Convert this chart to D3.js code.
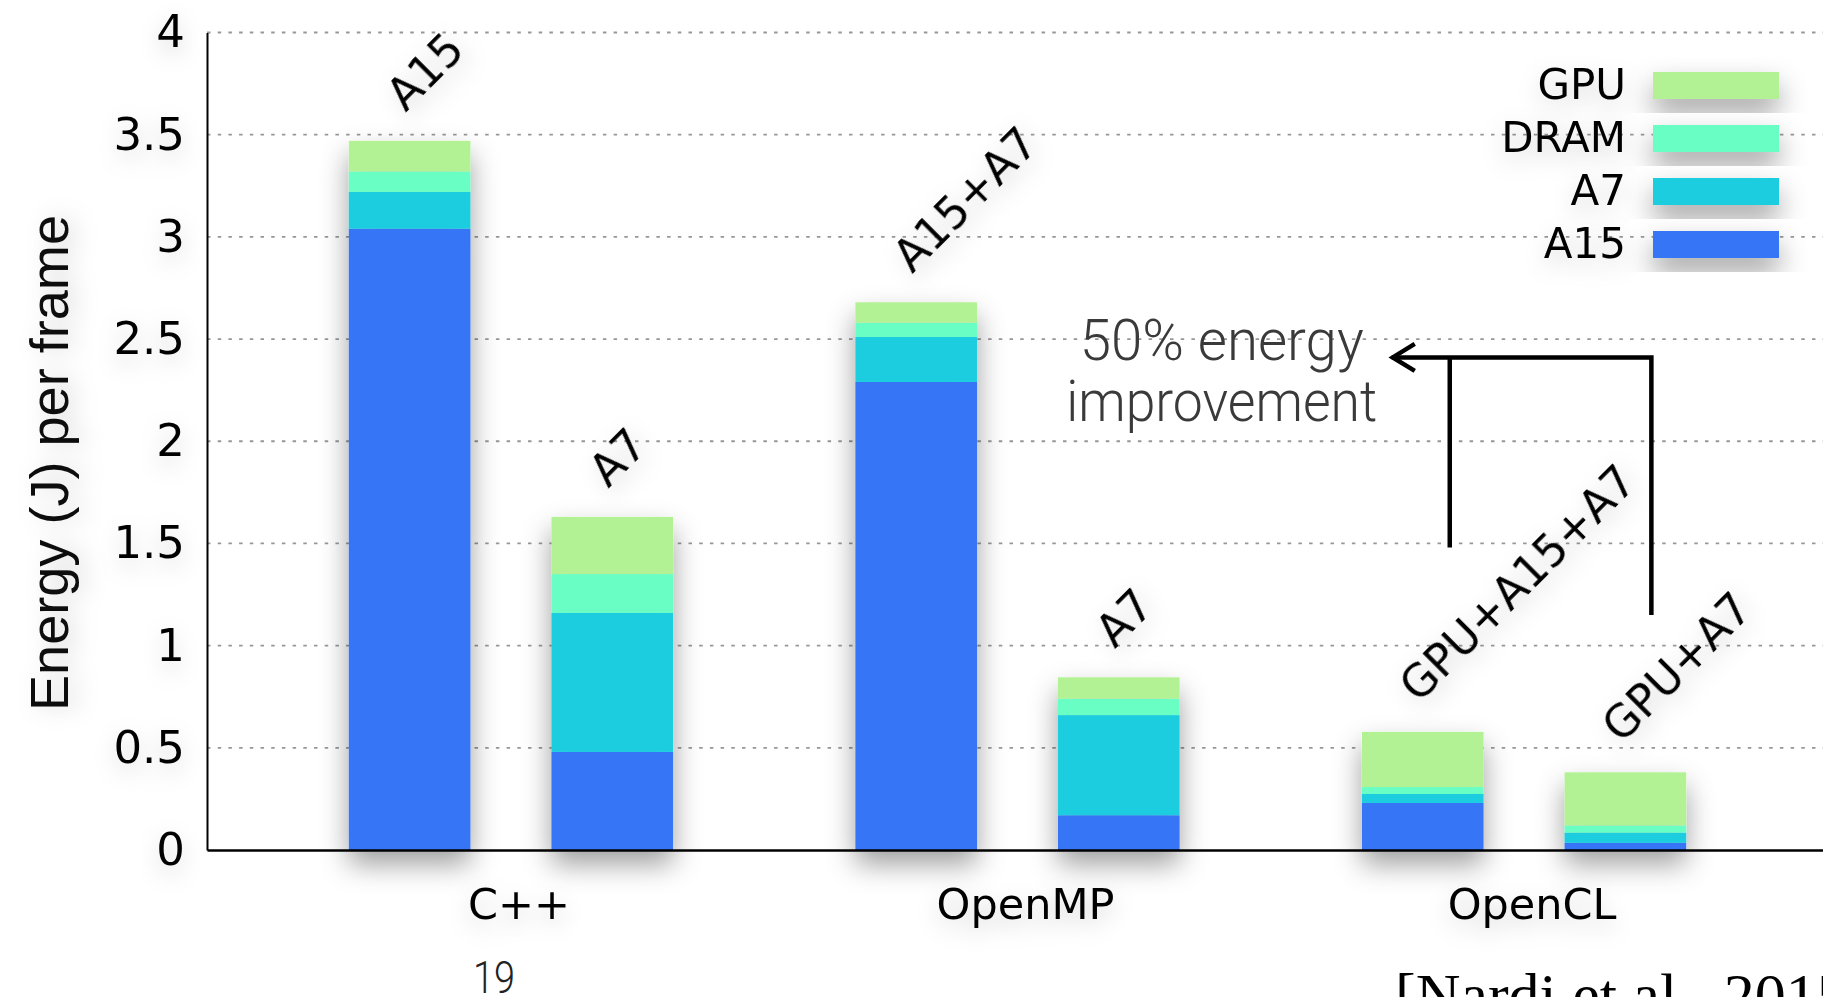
<!DOCTYPE html>
<html>
<head>
<meta charset="utf-8">
<script src="https://cdn.jsdelivr.net/npm/d3@7"></script>
<style>
  html, body { margin: 0; padding: 0; background: #fff; }
  svg { display: block; }
</style>
</head>
<body>
<script>
// Energy per frame for each programming model / core configuration
const groups = ["C++", "OpenMP", "OpenCL"];
const configs = ["A15", "A7", "A15+A7", "A7", "GPU+A15+A7", "GPU+A7"];
const configGroup = ["C++", "C++", "OpenMP", "OpenMP", "OpenCL", "OpenCL"];
const configSlot = [0, 1, 0, 1, 0, 1];

// Stacked components (J per frame), bottom to top
const a15Energy  = [3.04, 0.48, 2.29, 0.17, 0.23, 0.035];
const a7Energy   = [0.18, 0.68, 0.22, 0.49, 0.044, 0.05];
const dramEnergy = [0.10, 0.19, 0.07, 0.08, 0.034, 0.035];
const gpuEnergy  = [0.15, 0.28, 0.10, 0.105, 0.27, 0.26];

const seriesKeys = ["A15", "A7", "DRAM", "GPU"];
const seriesColors = ["#3574f6", "#1bcde0", "#68fec4", "#b2f294"];

const yTicks = [0, 0.5, 1, 1.5, 2, 2.5, 3, 3.5, 4];
const yTickLabels = ["0", "0.5", "1", "1.5", "2", "2.5", "3", "3.5", "4"];

// Annotation (arrow drawn in data units on the y axis)
const arrowLevel = 2.41;
const leftStemEnd = 1.48;
const rightStemEnd = 1.15;

const W = 1823, H = 997;
const plotLeft = 207, plotRight = 1828, plotTop = 32.5, plotBottom = 850;

const rows = configs.map((c, i) => ({
  config: c, group: configGroup[i], slot: configSlot[i],
  A15: a15Energy[i], A7: a7Energy[i], DRAM: dramEnergy[i], GPU: gpuEnergy[i]
}));

const svg = d3.select("body").append("svg").attr("width", W).attr("height", H);

const defs = svg.append("defs");
const fBar = defs.append("filter").attr("id", "barShadow")
  .attr("x", "-50%").attr("y", "-50%").attr("width", "200%").attr("height", "200%");
fBar.append("feDropShadow").attr("dx", 0).attr("dy", 14).attr("stdDeviation", 14)
  .attr("flood-color", "#000").attr("flood-opacity", 0.38);
const fText = defs.append("filter").attr("id", "textShadow")
  .attr("x", "-50%").attr("y", "-50%").attr("width", "200%").attr("height", "200%");
fText.append("feDropShadow").attr("dx", 0).attr("dy", 8).attr("stdDeviation", 11)
  .attr("flood-color", "#000").attr("flood-opacity", 0.18);

const y = d3.scaleLinear().domain([0, 4]).range([plotBottom, plotTop]);
const xGroup = d3.scaleBand().domain(groups).range([plotLeft, plotRight])
  .paddingInner(0).paddingOuter(0.1);
const xSlot = d3.scaleBand().domain([0, 1]).range([0, xGroup.bandwidth()])
  .paddingInner(0.4).paddingOuter(0.45);
const barX = d => xGroup(d.group) + xSlot(d.slot);
const barCenter = d => barX(d) + xSlot.bandwidth() / 2;

// Dotted horizontal gridlines
svg.append("g").selectAll("line")
  .data(yTicks.filter(t => t > 0))
  .join("line")
  .attr("x1", plotLeft).attr("x2", W)
  .attr("y1", d => y(d)).attr("y2", d => y(d))
  .attr("stroke", "#979797").attr("stroke-width", 1.8)
  .attr("stroke-dasharray", "3.5 7.2");

// Stacked bars
const stacked = d3.stack().keys(seriesKeys)(rows);
const color = d3.scaleOrdinal().domain(seriesKeys).range(seriesColors);

const barsG = svg.append("g").attr("filter", "url(#barShadow)");
barsG.selectAll("g.series")
  .data(stacked)
  .join("g").attr("class", "series").attr("fill", s => color(s.key))
  .selectAll("rect")
  .data(s => s)
  .join("rect")
  .attr("x", d => barX(d.data))
  .attr("width", xSlot.bandwidth())
  .attr("y", d => y(d[1]))
  .attr("height", d => y(d[0]) - y(d[1]));

// Y axis
const yAxis = d3.axisLeft(y).tickValues(yTicks)
  .tickFormat((d, i) => yTickLabels[i]).tickSize(0).tickSizeOuter(0).tickPadding(22);
const yAxisG = svg.append("g").attr("transform", `translate(${plotLeft},0)`).call(yAxis);
yAxisG.select(".domain").attr("stroke", "#000").attr("stroke-width", 2);
yAxisG.selectAll("text")
  .attr("font-family", "'DejaVu Sans', sans-serif").attr("font-size", 45)
  .attr("fill", "#000").attr("filter", "url(#textShadow)");

// X axis
const xAxis = d3.axisBottom(xGroup).tickSize(0).tickSizeOuter(0).tickPadding(38);
const xAxisG = svg.append("g").attr("transform", `translate(0,${plotBottom})`).call(xAxis);
xAxisG.select(".domain").attr("stroke", "#000").attr("stroke-width", 2.5);
xAxisG.selectAll("text")
  .attr("dx", 8)
  .attr("font-family", "'DejaVu Sans', sans-serif").attr("font-size", 43)
  .attr("fill", "#000").attr("filter", "url(#textShadow)");

// Y axis title
svg.append("text")
  .attr("transform", `translate(68,${(215 + 711) / 2}) rotate(-90)`)
  .attr("text-anchor", "middle")
  .attr("font-family", "'Liberation Sans', Arial, sans-serif")
  .attr("font-size", 54)
  .attr("textLength", 496).attr("lengthAdjust", "spacingAndGlyphs")
  .attr("fill", "#111")
  .attr("filter", "url(#textShadow)")
  .text("Energy (J) per frame");

// Configuration labels above each bar
svg.append("g").selectAll("text")
  .data(rows)
  .join("text")
  .attr("transform", d => `translate(${barCenter(d) - 4},${y(d.A15 + d.A7 + d.DRAM + d.GPU) - 28}) rotate(-45)`)
  .attr("font-family", "'DejaVu Sans', sans-serif")
  .attr("font-size", 44)
  .attr("fill", "#000")
  .attr("filter", "url(#textShadow)")
  .text(d => d.config);

// Legend (top entry = top of stack)
const legendOrder = seriesKeys.slice().reverse();
const legend = svg.append("g");
const legendItems = legend.selectAll("g")
  .data(legendOrder)
  .join("g")
  .attr("transform", (d, i) => `translate(0,${72 + i * 53})`);
legendItems.append("rect")
  .attr("x", 1653).attr("y", 0).attr("width", 126).attr("height", 27)
  .attr("fill", d => color(d)).attr("filter", "url(#barShadow)");
legendItems.append("text")
  .attr("x", 1626).attr("y", 26.5)
  .attr("text-anchor", "end")
  .attr("font-family", "'DejaVu Sans', sans-serif")
  .attr("font-size", 42)
  .attr("fill", "#000")
  .attr("filter", "url(#textShadow)")
  .text(d => d);

// Improvement arrow between the OpenCL bars
const bar5 = rows[4], bar6 = rows[5];
const tipX = barCenter(bar5) - 31;
const leftStemX = barCenter(bar5) + 27;
const rightStemX = barCenter(bar6) + 26;
const ay = y(arrowLevel);
const arrow = svg.append("g").attr("fill", "none").attr("stroke", "#000").attr("stroke-width", 4.5);
arrow.append("path")
  .attr("d", `M${tipX},${ay} L${rightStemX},${ay} L${rightStemX},${y(rightStemEnd)}`)
  .attr("stroke-linejoin", "miter");
arrow.append("path")
  .attr("d", `M${leftStemX},${ay} L${leftStemX},${y(leftStemEnd)}`);
arrow.append("path")
  .attr("d", `M${tipX + 23},${ay - 13.5} L${tipX + 1},${ay} L${tipX + 23},${ay + 13.5}`)
  .attr("stroke-linejoin", "miter");

// Annotation text
const noteX = barCenter(bar5) - 201;
const note = svg.append("g")
  .attr("font-family", "Roboto, 'Liberation Sans', Arial, sans-serif")
  .attr("font-weight", 300)
  .attr("font-size", 57)
  .attr("fill", "#3a3a3a")
  .attr("text-anchor", "middle");
note.append("text").attr("x", noteX).attr("y", 360)
  .attr("textLength", 284).attr("lengthAdjust", "spacingAndGlyphs")
  .text("50% energy");
note.append("text").attr("x", noteX).attr("y", 421)
  .attr("textLength", 311).attr("lengthAdjust", "spacingAndGlyphs")
  .text("improvement");

// Slide number and citation
svg.append("text")
  .attr("x", 494).attr("y", 993).attr("text-anchor", "middle")
  .attr("font-family", "Roboto, 'Liberation Sans', Arial, sans-serif")
  .attr("font-weight", 300)
  .attr("font-size", 44).attr("textLength", 42).attr("lengthAdjust", "spacingAndGlyphs")
  .attr("fill", "#222")
  .text("19");
svg.append("text")
  .attr("x", 1395).attr("y", 1016)
  .attr("font-family", "'Liberation Serif', 'Times New Roman', serif")
  .attr("font-size", 62)
  .attr("fill", "#000")
  .text("[Nardi et al., 2015]");
</script>
</body>
</html>
